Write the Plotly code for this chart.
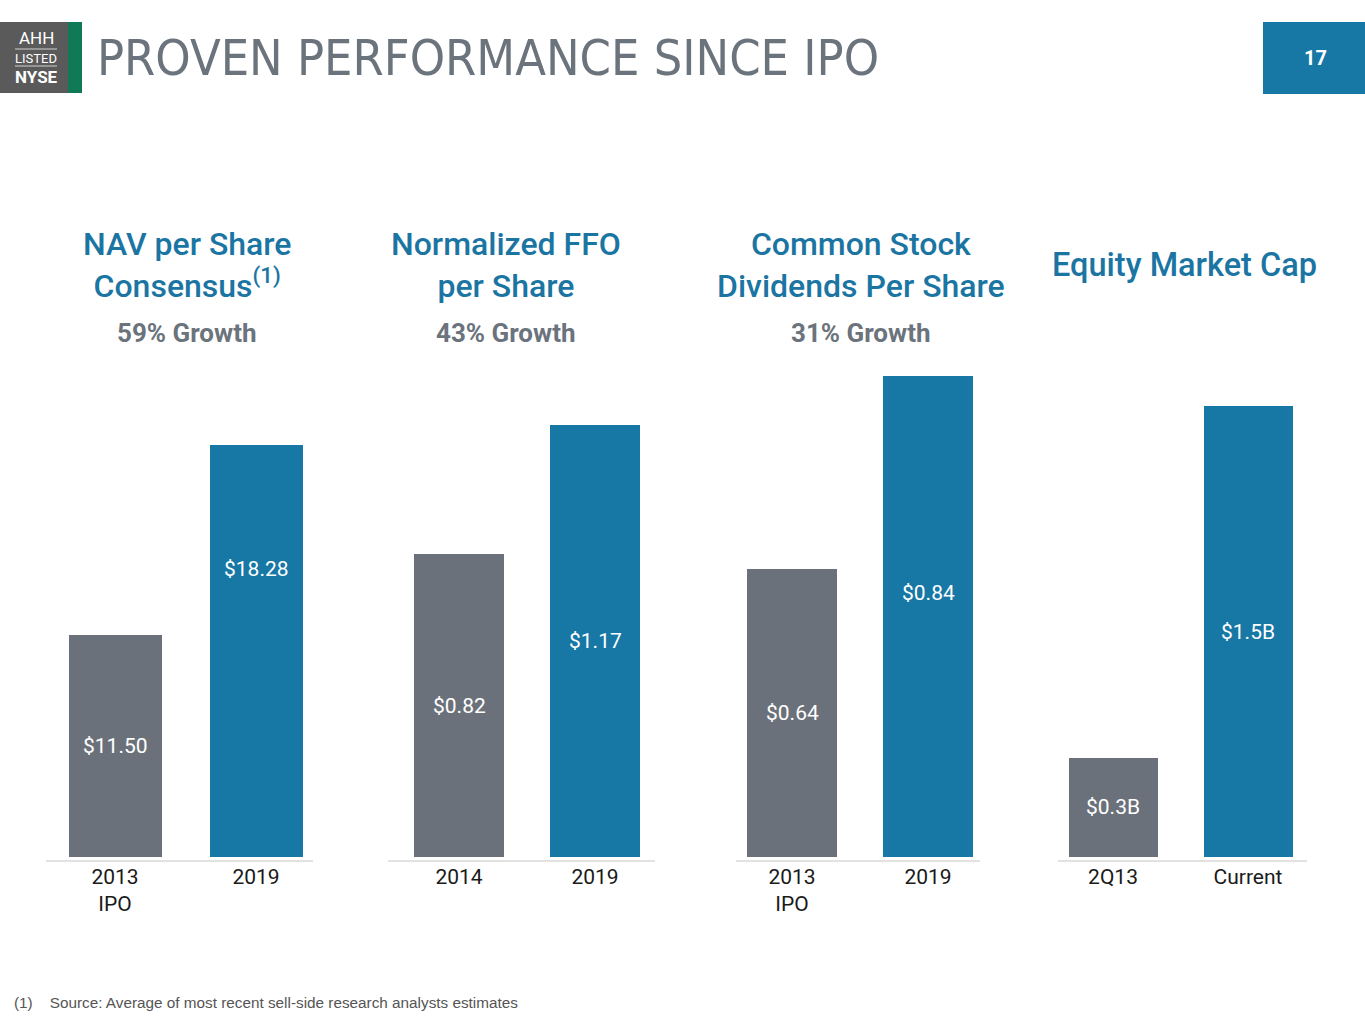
import plotly.graph_objects as go

# === Dati ===
panel_titles = ["NAV per Share<br>Consensus<sup>(1)</sup>", "Normalized FFO<br>per Share",
                "Common Stock<br>Dividends Per Share", "Equity Market Cap"]
panel_growth = ["59% Growth", "43% Growth", "31% Growth", ""]
categories = [["2013<br>IPO", "2019"], ["2014", "2019"], ["2013<br>IPO", "2019"], ["2Q13", "Current"]]
values = [[11.50, 18.28], [0.82, 1.17], [0.64, 0.84], [0.3, 1.5]]
value_labels = [["$11.50", "$18.28"], ["$0.82", "$1.17"], ["$0.64", "$0.84"], ["$0.3B", "$1.5B"]]

# === Stile ===
W, H = 1365, 1024
GRAY = "#6b717a"
BLUE = "#1777a5"
TITLE_BLUE = "#1b75a3"
TEXT_GRAY = "#6b737c"

def px(x):
    return x / W

def py(y):
    return 1 - y / H

# domini in pixel (sinistra, destra) e scale assi y (non partono da zero come nell'originale)
x_domains = [(44.5, 326.5), (391, 663), (724, 996), (1045.5, 1315.5)]
y_ranges = [[3.58, 20.97], [0, 1.318], [0.342, 0.8467], [-0.038, 1.624]]
base_lines = [(46, 313), (388, 655), (736, 980), (1058, 1307)]
title_x = [187, 506, 861, 1184]
title_size = [32, 32, 32, 32.5]
label_override = {(0, 1): 0.591, (2, 1): 0.542}
plot_top, plot_bottom = 370, 857

fig = go.Figure()
annotations = []
shapes = []

def note(x, y, text, font, xanchor="center", **kw):
    return dict(x=px(x), y=py(y), xref="paper", yref="paper", text=text, showarrow=False,
                xanchor=xanchor, yanchor="middle", font=font, **kw)

for i in range(4):
    ax = "" if i == 0 else str(i + 1)
    r0, r1 = y_ranges[i]
    # barre che partono dal fondo dell'asse
    fig.add_trace(go.Bar(
        x=categories[i], y=[v - r0 for v in values[i]], base=r0,
        marker=dict(color=[GRAY, BLUE], line=dict(width=0)),
        width=0.665, xaxis="x" + ax, yaxis="y" + ax,
        hoverinfo="skip", showlegend=False,
    ))
    fig.update_layout(**{
        "xaxis" + ax: dict(domain=[px(x_domains[i][0]), px(x_domains[i][1])], anchor="y" + ax,
                           type="category", range=[-0.5, 1.5], showline=False, showgrid=False,
                           ticks="", ticklabelstandoff=5,
                           tickfont=dict(family="Roboto", size=21, color="#1a1a1a")),
        "yaxis" + ax: dict(domain=[py(plot_bottom), py(plot_top)], anchor="x" + ax,
                           range=y_ranges[i], visible=False, showgrid=False),
    })

    # etichette dei valori dentro le barre
    for j in range(2):
        frac = label_override.get((i, j), (values[i][j] - r0) / (r1 - r0) / 2)
        annotations.append(dict(
            x=j, y=frac, xref="x" + ax, yref="y" + ax + " domain",
            text=value_labels[i][j], showarrow=False, xanchor="center", yanchor="middle",
            font=dict(family="Roboto", size=21, color="white"),
        ))

    # titoli dei pannelli
    annotations.append(note(title_x[i], 265, panel_titles[i],
                            dict(family="Roboto", size=title_size[i], weight=500, color=TITLE_BLUE)))
    if panel_growth[i]:
        annotations.append(note(title_x[i], 333, "<b>" + panel_growth[i] + "</b>",
                                dict(family="Roboto", size=26, color=TEXT_GRAY)))

    shapes.append(dict(type="line", xref="paper", yref="paper",
                       x0=px(base_lines[i][0]), x1=px(base_lines[i][1]),
                       y0=py(861), y1=py(861), line=dict(color="#d9d9d9", width=1.5)))

# === Intestazione ===
shapes += [
    dict(type="rect", xref="paper", yref="paper", x0=px(0), x1=px(68), y0=py(93), y1=py(22),
         fillcolor="#5a5a5a", line=dict(width=0)),
    dict(type="rect", xref="paper", yref="paper", x0=px(68), x1=px(82), y0=py(93), y1=py(22),
         fillcolor="#0f7a55", line=dict(width=0)),
    dict(type="line", xref="paper", yref="paper", x0=px(15), x1=px(57), y0=py(49), y1=py(49),
         line=dict(color="#d0d0d0", width=1)),
    dict(type="line", xref="paper", yref="paper", x0=px(15), x1=px(57), y0=py(66), y1=py(66),
         line=dict(color="#d0d0d0", width=1)),
    dict(type="rect", xref="paper", yref="paper", x0=px(1263), x1=px(1365), y0=py(94), y1=py(22),
         fillcolor=BLUE, line=dict(width=0)),
]
annotations += [
    note(36, 38, "AHH", dict(family="Roboto", size=17, color="white")),
    note(36, 58, "LISTED", dict(family="Roboto", size=13, color="white")),
    note(36, 77, "<b>NYSE</b>", dict(family="Roboto", size=17, color="white")),
    note(95, 58, "PROVEN PERFORMANCE SINCE IPO",
         dict(family="DejaVu Sans Condensed, Roboto", size=50, color=TEXT_GRAY), xanchor="left"),
    note(1315, 58, "<b>17</b>", dict(family="Roboto", size=20, color="white")),
    note(12, 1002, "(1)    Source: Average of most recent sell-side research analysts estimates",
         dict(family="Liberation Sans", size=15.3, color="#555555"), xanchor="left"),
]

fig.update_layout(
    width=W, height=H,
    margin=dict(l=0, r=0, t=0, b=0),
    paper_bgcolor="white", plot_bgcolor="white",
    annotations=annotations, shapes=shapes,
    bargap=0,
)

fig.write_html("out.html", config={"displayModeBar": False},
               post_script="document.body.style.margin='0';")
